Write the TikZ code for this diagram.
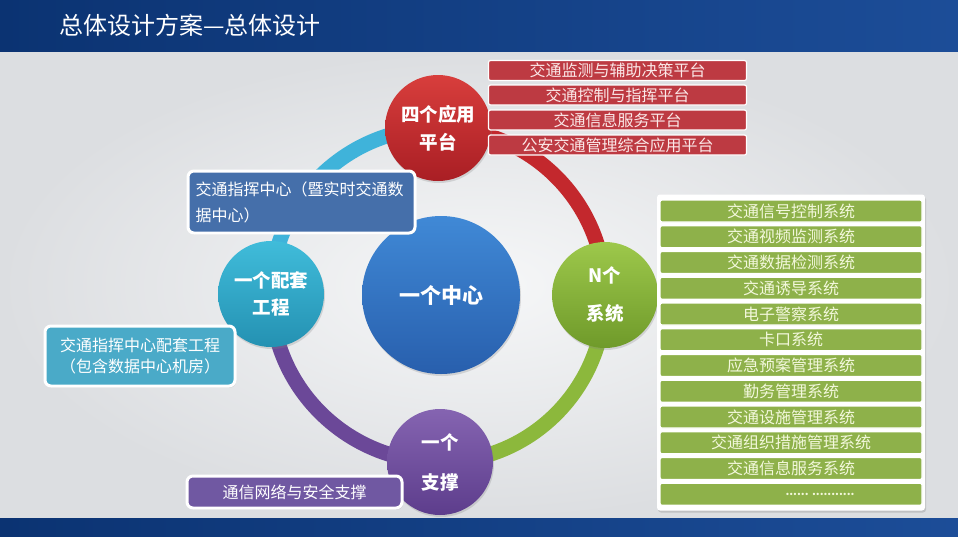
\documentclass[tikz,border=0pt]{standalone}
\usepackage{fontspec}
\setmainfont{Noto Sans CJK SC}
\usetikzlibrary{positioning,backgrounds,shadows}
\definecolor{navyA}{HTML}{0B3372}
\definecolor{navyB}{HTML}{1C4D98}
\definecolor{bglight}{HTML}{F6F7F8}
\definecolor{bgdark}{HTML}{DCDEE1}
\definecolor{ringred}{HTML}{C3282D}
\definecolor{ringgreen}{HTML}{8CB83C}
\definecolor{ringpurple}{HTML}{6B4898}
\definecolor{ringcyan}{HTML}{3FB3DA}
\definecolor{redA}{HTML}{D83E3C}
\definecolor{redB}{HTML}{A91E24}
\definecolor{greenA}{HTML}{9DC84B}
\definecolor{greenB}{HTML}{6F9A2A}
\definecolor{purpleA}{HTML}{8564B1}
\definecolor{purpleB}{HTML}{5D3D8C}
\definecolor{tealA}{HTML}{40BCDA}
\definecolor{tealB}{HTML}{2491B2}
\definecolor{blueA}{HTML}{4089D6}
\definecolor{blueB}{HTML}{285FAD}
\definecolor{platred}{HTML}{BD3A42}
\definecolor{plattext}{HTML}{FBE8E8}
\definecolor{sysgreen}{HTML}{8EB14A}
\definecolor{systext}{HTML}{F3F8DC}
\definecolor{noteblue}{HTML}{456FAA}
\definecolor{noteteal}{HTML}{4AAAC8}
\definecolor{notepurple}{HTML}{7058A2}

\begin{document}
\begin{tikzpicture}[x=1pt,y=1pt,
hub/.style={circle,minimum size=106pt,inner sep=0pt,text=white,align=center,font=\bfseries\fontsize{18.5}{27}\selectfont,drop shadow={opacity=0.25,shadow xshift=1pt,shadow yshift=-2pt}},
ring/.style={line width=15pt},
item/.style={rounded corners=2pt,draw=white,line width=1.2pt,inner sep=0pt,minimum height=20pt,font=\fontsize{16}{16}\selectfont},
sysrow/.style={item,fill=sysgreen,text=systext,minimum width=262pt,minimum height=22pt},
callout/.style={rounded corners=6pt,draw=white,line width=3pt,inner sep=0pt,text=white,font=\fontsize{16}{21.5}\selectfont,drop shadow={opacity=0.3,shadow xshift=1pt,shadow yshift=-1.5pt}}]
% background and bars
\begin{scope}[on background layer]
\fill[inner color=bglight,outer color=bgdark] (0,-50) rectangle (958,-520);
\end{scope}
\fill[left color=navyA,right color=navyB] (0,0) rectangle (958,-51);
\fill[left color=navyA,right color=navyB] (0,-518) rectangle (958,-536);
\node[anchor=west,text=white,font=\fontsize{24}{24}\selectfont] (title) at (56,-25) {总体设计方案—总体设计};

% ring of hubs
\node[hub,top color=redA,bottom color=redB,font=\bfseries\fontsize{18.5}{28}\selectfont] (apps) at (438,-128) {四个应用\\平台};
\node[hub,top color=greenA,bottom color=greenB,font=\bfseries\fontsize{18.5}{38}\selectfont] (systems) at (605,-295) {N个\\系统};
\node[hub,top color=purpleA,bottom color=purpleB,font=\bfseries\fontsize{18.5}{40}\selectfont] (support) at (440,-462) {一个\\支撑};
\node[hub,top color=tealA,bottom color=tealB] (project) at (271,-294) {一个配套\\工程};
\node[hub,minimum size=158pt,top color=blueA,bottom color=blueB,font=\bfseries\fontsize{21}{21}\selectfont] (center) at (441,-295) {一个中心};
\begin{scope}[on background layer]
\draw[ring,ringred] (apps.center) to[out=0,in=90] (systems.center);
\draw[ring,ringgreen] (systems.center) to[out=-90,in=0] (support.center);
\draw[ring,ringpurple] (support.center) to[out=180,in=-90] (project.center);
\draw[ring,ringcyan] (project.center) to[out=90,in=180] (apps.center);
\end{scope}

% platforms
\node[item,fill=platred,text=plattext,minimum width=258pt] (monitor) at (617.5,-70.5) {交通监测与辅助决策平台};
\node[item,fill=platred,text=plattext,minimum width=258pt] (control) at (617.5,-95) {交通控制与指挥平台};
\node[item,fill=platred,text=plattext,minimum width=258pt] (infoplat) at (617.5,-120) {交通信息服务平台};
\node[item,fill=platred,text=plattext,minimum width=258pt] (integrate) at (617.5,-145) {公安交通管理综合应用平台};

% systems
\node[fill=white,rounded corners=3pt,minimum width=268pt,minimum height=316pt,drop shadow={opacity=0.3,shadow xshift=1pt,shadow yshift=-2pt}] (syspanel) at (791,-352.5) {};
\node[sysrow] (signal) at (791,-211) {交通信号控制系统};
\node[sysrow] (video) at (791,-236.75) {交通视频监测系统};
\node[sysrow] (detect) at (791,-262.5) {交通数据检测系统};
\node[sysrow] (guide) at (791,-288.25) {交通诱导系统};
\node[sysrow] (police) at (791,-314) {电子警察系统};
\node[sysrow] (checkpt) at (791,-339.75) {卡口系统};
\node[sysrow] (emerg) at (791,-365.5) {应急预案管理系统};
\node[sysrow] (duty) at (791,-391.25) {勤务管理系统};
\node[sysrow] (facility) at (791,-417) {交通设施管理系统};
\node[sysrow] (organize) at (791,-442.75) {交通组织措施管理系统};
\node[sysrow] (infosvc) at (791,-468.5) {交通信息服务系统};
\node[sysrow,font=\bfseries\fontsize{11}{11}\selectfont] (more) at (791,-494.25) {\hspace*{58pt}...... ...........};

% notes
\node[callout,fill=noteblue,minimum width=227pt,minimum height=62pt,text width=212pt,align=left,font=\fontsize{16}{26}\selectfont] (hubnote) at (301.5,-202) {交通指挥中心（暨实时交通数\\据中心）};
\node[callout,fill=noteteal,minimum width=190pt,minimum height=60pt,align=center] (projnote) at (140,-356) {交通指挥中心配套工程\\（包含数据中心机房）};
\node[callout,fill=notepurple,minimum width=215pt,minimum height=32pt] (supnote) at (294.5,-492) {通信网络与安全支撑};
\end{tikzpicture}
\end{document}
